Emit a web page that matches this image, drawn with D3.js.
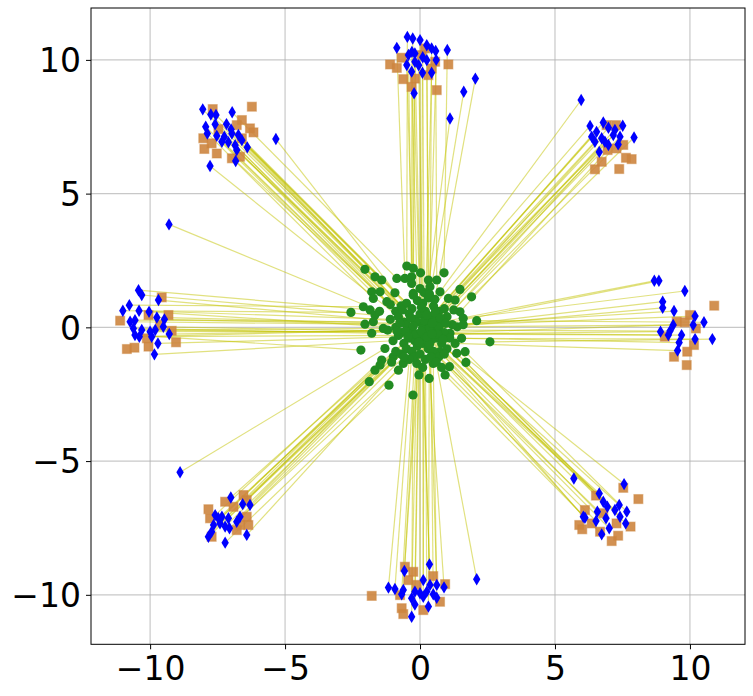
<!DOCTYPE html>
<html><head><meta charset="utf-8">
<script src="https://cdn.jsdelivr.net/npm/d3@7"></script>
<style>body{margin:0;background:#fff}svg{display:block}</style>
</head><body>
<svg id="c" width="753" height="696"></svg>
<script>
const xTicks = [-10, -5, 0, 5, 10];
const yTicks = [-10, -5, 0, 5, 10];

const greenPoints = [
[-2.04,2.17],[-1.67,1.89],[-1.42,1.77],[-0.86,1.83],[-0.49,2.29],[-0.25,2.21],[0.02,2.04],[-0.56,1.83],[-0.31,1.89],[-0.31,1.64],
[0.31,1.77],[0.62,1.77],[0.89,2.04],[0.37,1.52],[0.74,1.33],[1.05,1.08],[1.48,1.42],[1.91,1.14],[1.30,1.02],[-1.79,1.33],
[-1.48,1.33],[-1.73,1.08],[-0.93,1.29],[-0.25,1.27],[-1.23,0.96],[-2.56,0.56],[-2.10,0.77],[-1.85,0.65],[-1.67,0.46],[-2.04,0.12],
[-1.73,0.21],[-1.79,-0.22],[-1.36,-0.04],[1.48,0.58],[1.60,0.34],[2.10,0.25],[1.38,0.02],[2.59,-0.54],[1.54,-0.41],[1.11,-0.22],
[-2.19,-0.85],[-1.30,-0.79],[-1.42,-1.22],[-1.48,-1.41],[-1.67,-1.60],[-1.88,-2.03],[-1.15,-2.16],[-0.26,-2.53],[-0.04,-1.78],[0.34,-1.91],
[0.93,-1.78],[1.09,-1.47],[1.70,-1.31],[1.67,-0.91],[1.36,-0.97],[0.74,-0.91],[0.49,-1.35],[-0.62,-1.35],[-0.99,-1.10],[-0.12,-1.35],
[-0.9,0.6],[-0.7,0.8],[-0.5,0.9],[-0.3,0.7],[-0.1,1.0],[0.1,0.9],[0.3,1.1],[0.5,0.8],[0.7,0.6],[0.9,0.7],
[-1.1,0.3],[-0.8,0.4],[-0.6,0.2],[-0.4,0.5],[-0.2,0.3],[0.0,0.5],[0.2,0.6],[0.4,0.4],[0.6,0.3],[0.8,0.2],
[1.0,0.4],[1.2,0.1],[-1.2,-0.1],[-0.9,0.0],[-0.7,-0.2],[-0.5,0.1],[-0.3,-0.1],[-0.1,0.2],[0.1,0.0],[0.3,0.2],
[0.5,-0.1],[0.7,0.0],[0.9,-0.2],[1.1,-0.4],[-1.0,-0.5],[-0.8,-0.3],[-0.6,-0.6],[-0.4,-0.4],[-0.2,-0.5],[0.0,-0.3],
[0.2,-0.2],[0.4,-0.5],[0.6,-0.4],[0.8,-0.6],[1.0,-0.8],[-0.9,-0.9],[-0.7,-1.0],[-0.5,-0.8],[-0.3,-0.9],[-0.1,-0.7],
[0.1,-0.6],[0.3,-0.8],[0.5,-0.9],[0.7,-1.1],[0.9,-1.0],[-0.2,-1.1],[0.0,-1.0],[0.2,-1.2],[0.4,-1.1],[0.6,-1.3],
[-0.4,-1.2],[-0.6,-1.1],[0.15,0.25],[0.35,-0.05],[-0.15,-0.25],[0.05,0.75],[0.25,0.45],[-0.35,0.35],[0.45,0.15],[0.55,0.55],
[-0.55,-0.15],[0.65,-0.25],[0.15,-0.45],[-0.05,-0.55],[0.35,-0.65],[-0.25,0.05],[0.05,-0.15],[0.25,-0.35],[0.45,-0.25],[-0.45,-0.35],
[0.75,0.35],[-0.75,0.15],[0.85,-0.45],[-0.85,-0.15],[0.15,1.3],[0.35,1.25],[-0.25,1.2],[0.55,1.05],[-0.65,0.65],[0.95,0.15],
[1.25,0.65],[-1.1,0.85],[1.3,-0.6],[-1.05,-1.3],[0.8,-1.5],[-0.8,-1.6],[0.1,-1.5],[-1.5,0.6],[1.6,0.1],[0.0,1.45]
];

const bluePoints = [
// top
[-0.86,10.45],[-0.47,10.86],[-0.27,10.80],[0.0,10.74],[0.25,10.55],[0.43,10.43],[0.58,10.33],[1.01,10.37],[-0.43,10.18],[-0.19,10.24],
[-0.49,9.81],[-0.19,9.93],[0.25,9.99],[-0.31,9.56],[0.09,9.52],[0.43,9.52],[-0.22,8.75],[1.62,8.81],[1.11,7.81],[2.05,9.30],
[-0.3,10.3],[0.1,10.1],[-0.05,9.8],[0.6,10.0],
// top-left
[-8.05,8.15],[-7.75,7.96],[-7.56,7.94],[-6.96,8.04],[-7.59,7.59],[-7.17,7.60],[-7.94,7.50],[-7.88,7.25],[-7.53,7.16],[-7.25,7.13],
[-6.97,7.25],[-6.73,7.19],[-7.34,6.94],[-7.10,6.92],[-6.85,6.81],[-6.79,6.63],[-6.40,6.73],[-6.83,6.22],[-7.78,6.03],[-5.34,7.04],
[-9.30,3.85],[-7.0,7.4],[-6.6,7.0],
// top-right
[5.97,8.50],[6.30,7.53],[6.54,7.31],[6.79,7.66],[6.98,7.46],[7.51,7.54],[7.93,7.10],[6.36,7.13],[6.73,7.07],[7.16,7.19],
[7.41,7.13],[6.98,6.82],[7.34,6.84],[6.64,6.56],[6.48,6.94],[6.85,6.94],[7.22,7.38],
// right
[8.68,1.74],[8.85,1.74],[9.81,1.36],[8.99,0.96],[8.99,0.73],[9.41,0.61],[10.19,0.42],[10.52,0.19],[10.12,0.09],[8.91,-0.16],
[9.26,-0.14],[9.38,0.09],[9.69,-0.29],[10.19,-0.44],[10.83,-0.44],[9.60,-0.57],[9.54,-0.87],[9.20,-0.29],
// left
[-10.43,1.39],[-10.31,1.21],[-9.69,1.02],[-10.77,0.83],[-11.01,0.62],[-10.41,0.62],[-10.04,0.58],[-10.56,0.27],[-10.74,0.21],[-9.75,0.37],
[-9.47,0.30],[-10.62,-0.04],[-10.31,-0.10],[-10.0,-0.16],[-9.81,-0.10],[-9.51,0.02],[-10.56,-0.29],[-10.40,-0.35],[-9.94,-0.35],[-9.29,-0.25],
[-9.71,-0.60],[-9.84,-1.01],
// bottom-left
[-8.89,-5.42],[-7.01,-6.36],[-6.57,-6.61],[-6.30,-6.64],[-7.59,-7.02],[-7.34,-7.08],[-7.10,-7.14],[-6.67,-7.08],[-7.65,-7.39],[-7.41,-7.33],
[-7.22,-7.45],[-7.06,-7.51],[-7.72,-7.64],[-7.84,-7.83],[-6.42,-7.76],[-7.22,-8.05],[-7.47,-7.14],[-6.79,-7.27],
// bottom
[0.35,-8.86],[-0.58,-9.11],[2.10,-9.42],[-1.17,-9.73],[-0.93,-9.78],[-0.62,-9.82],[-0.68,-9.98],[-0.19,-9.88],[0.12,-9.45],[0.37,-9.63],
[0.62,-9.63],[0.89,-9.72],[-0.31,-10.13],[0.0,-9.94],[0.25,-9.88],[0.49,-9.98],[0.62,-10.11],[-0.19,-10.36],[0.31,-10.44],[-0.31,-10.82],
[0.12,-10.07],
// bottom-right
[5.70,-5.65],[7.56,-5.86],[6.64,-6.21],[6.79,-6.52],[6.94,-6.71],[6.57,-6.89],[7.22,-6.83],[7.38,-6.64],[7.66,-6.89],[6.11,-7.12],
[6.89,-7.14],[7.41,-7.08],[6.52,-7.24],[7.62,-7.33],[7.01,-7.51],[6.73,-7.74],[6.05,-7.08]
];

const orangePoints = [
// top
[-1.11,9.83],[-0.86,9.70],[-0.62,9.28],[-0.68,10.08],[0.06,10.18],[0.56,9.93],[1.05,9.83],[-0.19,9.30],[0.62,8.87],[-0.31,8.99],
[0.19,10.43],[0.43,9.68],[0.31,9.43],
// top-left
[-7.68,8.16],[-6.23,8.25],[-6.60,7.75],[-6.79,7.56],[-6.30,7.44],[-6.17,7.29],[-8.03,7.07],[-7.99,6.67],[-7.53,6.50],[-6.97,6.32],
[-6.67,6.38],[-7.47,7.41],[-6.60,7.07],[-7.72,6.88],
// top-right
[6.91,7.56],[7.26,7.56],[7.53,6.82],[7.63,6.34],[7.84,6.29],[6.73,6.19],[6.48,5.91],[7.38,5.92],[6.95,6.63],[7.28,6.69],
// right
[10.9,0.81],[10.0,0.46],[9.81,0.19],[10.22,-0.04],[9.07,-0.35],[10.15,-0.66],[9.90,-0.91],[9.41,-1.10],[9.88,-1.41],[9.51,0.21],
// left
[-9.57,1.12],[-11.11,0.25],[-9.32,0.46],[-10.06,0.46],[-9.20,-0.13],[-9.04,-0.56],[-10.86,-0.81],[-10.58,-0.76],[-10.06,-0.72],[-10.12,-0.41],
[-9.63,0.09],
// bottom-left
[-7.84,-6.80],[-7.22,-6.52],[-6.91,-6.71],[-6.54,-6.27],[-6.42,-6.46],[-6.36,-7.39],[-6.79,-7.58],[-7.78,-7.14],[-7.72,-7.83],[-6.67,-7.39],
[-6.42,-7.08],
// bottom
[-1.79,-10.04],[-0.56,-8.95],[-0.25,-9.14],[-0.43,-9.45],[0.49,-9.30],[0.93,-9.60],[-0.12,-9.63],[-0.68,-10.50],[-0.62,-10.72],[0.74,-10.26],
[0.12,-10.57],[-0.74,-10.01],
// bottom-right
[8.09,-6.42],[7.53,-6.00],[6.52,-6.29],[6.11,-6.83],[6.79,-6.95],[7.28,-7.33],[7.80,-7.45],[5.90,-7.39],[6.01,-7.55],[6.67,-7.64],
[7.34,-7.79],[7.10,-7.99],[6.36,-7.33]
];

// Optimal assignment (Hungarian algorithm), rows <= cols
function hungarian(cost) {
  const n = cost.length, m = cost[0].length, INF = 1e18;
  const u = new Array(n + 1).fill(0), v = new Array(m + 1).fill(0);
  const p = new Array(m + 1).fill(0), way = new Array(m + 1).fill(0);
  for (let i = 1; i <= n; i++) {
    p[0] = i; let j0 = 0;
    const minv = new Array(m + 1).fill(INF), used = new Array(m + 1).fill(false);
    do {
      used[j0] = true;
      const i0 = p[j0]; let delta = INF, j1 = 0;
      for (let j = 1; j <= m; j++) if (!used[j]) {
        const cur = cost[i0 - 1][j - 1] - u[i0] - v[j];
        if (cur < minv[j]) { minv[j] = cur; way[j] = j0; }
        if (minv[j] < delta) { delta = minv[j]; j1 = j; }
      }
      for (let j = 0; j <= m; j++) {
        if (used[j]) { u[p[j]] += delta; v[j] -= delta; } else minv[j] -= delta;
      }
      j0 = j1;
    } while (p[j0] !== 0);
    do { const j1 = way[j0]; p[j0] = p[j1]; j0 = j1; } while (j0);
  }
  const ans = new Array(n);
  for (let j = 1; j <= m; j++) if (p[j]) ans[p[j] - 1] = j - 1;
  return ans;
}

// trajectories: each diamond linked to its source point by the squared-distance optimal coupling
function pairUp(greens, blues) {
  const cost = blues.map(b => greens.map(g => (g[0] - b[0]) ** 2 + (g[1] - b[1]) ** 2));
  const a = hungarian(cost);
  return blues.map((b, i) => [greens[a[i]], b]);
}
const links = pairUp(greenPoints, bluePoints);

const svg = d3.select('#c');
const L = 91, R = 745, T = 8, B = 644.3;
const x = d3.scaleLinear().domain([-12.19, 12.04]).range([L, R]);
const y = d3.scaleLinear().domain([-11.85, 11.94]).range([B, T]);

// grid
const grid = svg.append('g');
grid.selectAll('.gx').data(xTicks).join('line')
  .attr('x1', d => x(d)).attr('x2', d => x(d)).attr('y1', T).attr('y2', B)
  .attr('stroke', '#b0b0b0').attr('stroke-opacity', 0.7).attr('stroke-width', 1.2);
grid.selectAll('.gy').data(yTicks).join('line')
  .attr('y1', d => y(d)).attr('y2', d => y(d)).attr('x1', L).attr('x2', R)
  .attr('stroke', '#b0b0b0').attr('stroke-opacity', 0.7).attr('stroke-width', 1.2);

// connecting lines green -> blue
svg.append('g').selectAll('line').data(links).join('line')
  .attr('x1', d => x(d[0][0])).attr('y1', d => y(d[0][1]))
  .attr('x2', d => x(d[1][0])).attr('y2', d => y(d[1][1]))
  .attr('stroke', '#c4c400').attr('stroke-opacity', 0.5).attr('stroke-width', 1.2);

// orange squares
svg.append('g').selectAll('rect').data(orangePoints).join('rect')
  .attr('x', d => x(d[0]) - 4.5).attr('y', d => y(d[1]) - 4.5)
  .attr('width', 9).attr('height', 9)
  .attr('fill', '#cd853f').attr('fill-opacity', 0.9)
  .attr('stroke', '#cd853f').attr('stroke-opacity', 0.45).attr('stroke-width', 1.2);

// green circles
svg.append('g').selectAll('circle').data(greenPoints).join('circle')
  .attr('cx', d => x(d[0])).attr('cy', d => y(d[1])).attr('r', 4.6)
  .attr('fill', '#228b22');

// blue thin diamonds
svg.append('g').selectAll('path').data(bluePoints).join('path')
  .attr('transform', d => `translate(${x(d[0])},${y(d[1])})`)
  .attr('d', 'M0,-6.2L3.7,0L0,6.2L-3.7,0Z')
  .attr('fill', '#0000ff');

// frame
svg.append('rect').attr('x', L).attr('y', T).attr('width', R - L).attr('height', B - T)
  .attr('fill', 'none').attr('stroke', '#000').attr('stroke-width', 1);

const fmt = d => (d < 0 ? '\u2212' + Math.abs(d) : '' + d);
const font = 'DejaVu Sans, sans-serif';

const xa = svg.append('g').attr('transform', `translate(0,${B})`)
  .call(d3.axisBottom(x).tickValues(xTicks).tickFormat(fmt).tickSize(5).tickSizeOuter(0));
xa.select('.domain').remove();
xa.selectAll('line').attr('stroke', '#000').attr('stroke-width', 1);
xa.selectAll('text').attr('font-family', font).attr('font-size', 33).attr('fill', '#000')
  .attr('y', 36).attr('dy', 0);

const ya = svg.append('g').attr('transform', `translate(${L},0)`)
  .call(d3.axisLeft(y).tickValues(yTicks).tickFormat(fmt).tickSize(5).tickSizeOuter(0));
ya.select('.domain').remove();
ya.selectAll('line').attr('stroke', '#000').attr('stroke-width', 1);
ya.selectAll('text').attr('font-family', font).attr('font-size', 33).attr('fill', '#000')
  .attr('x', -10).attr('dy', '0.36em');
</script>
</body></html>
